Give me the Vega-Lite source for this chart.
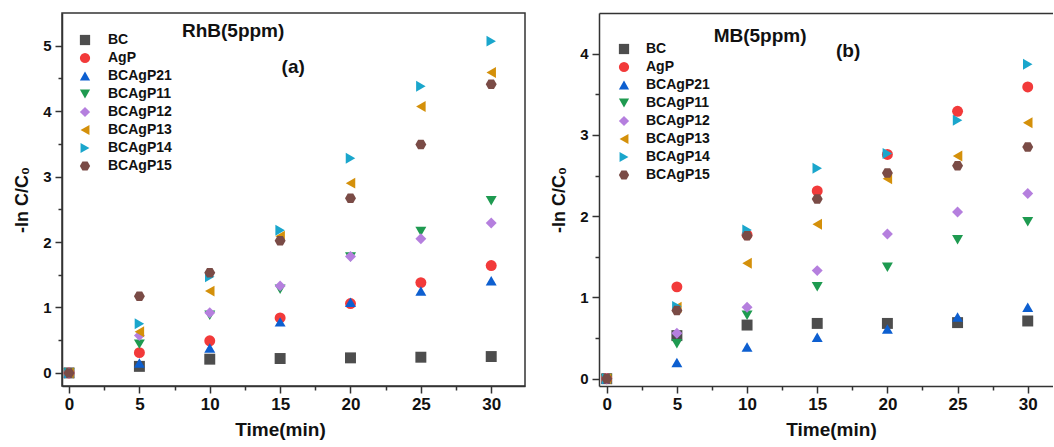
{
  "$schema": "https://vega.github.io/schema/vega-lite/v6.json",
  "background": "white",
  "padding": {"left": 12, "top": 12, "right": 0, "bottom": 0},
  "spacing": 24,
  "config": {
    "font": "Liberation Sans",
    "view": {"stroke": "#333333", "strokeWidth": 1.5},
    "axis": {
      "domainColor": "#333333", "domainWidth": 1.5,
      "tickColor": "#333333", "tickWidth": 1.5,
      "labelFont": "Liberation Sans", "labelFontWeight": "bold", "labelColor": "#111111",
      "titleFont": "Liberation Sans", "titleFontWeight": "bold", "titleColor": "#111111",
      "grid": false, "labelFlush": false, "labelOverlap": false
    },
    "legend": {"padding": 0}
  },
  "datasets": {
    "pts": [
      {"panel": "RhB", "sample": "BC", "time": 0, "value": 0},
      {"panel": "RhB", "sample": "BC", "time": 5, "value": 0.10},
      {"panel": "RhB", "sample": "BC", "time": 10, "value": 0.21},
      {"panel": "RhB", "sample": "BC", "time": 15, "value": 0.22},
      {"panel": "RhB", "sample": "BC", "time": 20, "value": 0.23},
      {"panel": "RhB", "sample": "BC", "time": 25, "value": 0.24},
      {"panel": "RhB", "sample": "BC", "time": 30, "value": 0.25},
      {"panel": "RhB", "sample": "AgP", "time": 0, "value": 0},
      {"panel": "RhB", "sample": "AgP", "time": 5, "value": 0.31},
      {"panel": "RhB", "sample": "AgP", "time": 10, "value": 0.49},
      {"panel": "RhB", "sample": "AgP", "time": 15, "value": 0.84},
      {"panel": "RhB", "sample": "AgP", "time": 20, "value": 1.06},
      {"panel": "RhB", "sample": "AgP", "time": 25, "value": 1.38},
      {"panel": "RhB", "sample": "AgP", "time": 30, "value": 1.64},
      {"panel": "RhB", "sample": "BCAgP21", "time": 0, "value": 0},
      {"panel": "RhB", "sample": "BCAgP21", "time": 5, "value": 0.15},
      {"panel": "RhB", "sample": "BCAgP21", "time": 10, "value": 0.38},
      {"panel": "RhB", "sample": "BCAgP21", "time": 15, "value": 0.78},
      {"panel": "RhB", "sample": "BCAgP21", "time": 20, "value": 1.08},
      {"panel": "RhB", "sample": "BCAgP21", "time": 25, "value": 1.25},
      {"panel": "RhB", "sample": "BCAgP21", "time": 30, "value": 1.41},
      {"panel": "RhB", "sample": "BCAgP11", "time": 0, "value": 0},
      {"panel": "RhB", "sample": "BCAgP11", "time": 5, "value": 0.44},
      {"panel": "RhB", "sample": "BCAgP11", "time": 10, "value": 0.88},
      {"panel": "RhB", "sample": "BCAgP11", "time": 15, "value": 1.28},
      {"panel": "RhB", "sample": "BCAgP11", "time": 20, "value": 1.77},
      {"panel": "RhB", "sample": "BCAgP11", "time": 25, "value": 2.16},
      {"panel": "RhB", "sample": "BCAgP11", "time": 30, "value": 2.63},
      {"panel": "RhB", "sample": "BCAgP12", "time": 0, "value": 0},
      {"panel": "RhB", "sample": "BCAgP12", "time": 5, "value": 0.57},
      {"panel": "RhB", "sample": "BCAgP12", "time": 10, "value": 0.92},
      {"panel": "RhB", "sample": "BCAgP12", "time": 15, "value": 1.33},
      {"panel": "RhB", "sample": "BCAgP12", "time": 20, "value": 1.78},
      {"panel": "RhB", "sample": "BCAgP12", "time": 25, "value": 2.05},
      {"panel": "RhB", "sample": "BCAgP12", "time": 30, "value": 2.29},
      {"panel": "RhB", "sample": "BCAgP13", "time": 0, "value": 0},
      {"panel": "RhB", "sample": "BCAgP13", "time": 5, "value": 0.63},
      {"panel": "RhB", "sample": "BCAgP13", "time": 10, "value": 1.25},
      {"panel": "RhB", "sample": "BCAgP13", "time": 15, "value": 2.09},
      {"panel": "RhB", "sample": "BCAgP13", "time": 20, "value": 2.90},
      {"panel": "RhB", "sample": "BCAgP13", "time": 25, "value": 4.07},
      {"panel": "RhB", "sample": "BCAgP13", "time": 30, "value": 4.59},
      {"panel": "RhB", "sample": "BCAgP14", "time": 0, "value": 0},
      {"panel": "RhB", "sample": "BCAgP14", "time": 5, "value": 0.75},
      {"panel": "RhB", "sample": "BCAgP14", "time": 10, "value": 1.47},
      {"panel": "RhB", "sample": "BCAgP14", "time": 15, "value": 2.18},
      {"panel": "RhB", "sample": "BCAgP14", "time": 20, "value": 3.28},
      {"panel": "RhB", "sample": "BCAgP14", "time": 25, "value": 4.38},
      {"panel": "RhB", "sample": "BCAgP14", "time": 30, "value": 5.07},
      {"panel": "RhB", "sample": "BCAgP15", "time": 0, "value": 0},
      {"panel": "RhB", "sample": "BCAgP15", "time": 5, "value": 1.17},
      {"panel": "RhB", "sample": "BCAgP15", "time": 10, "value": 1.53},
      {"panel": "RhB", "sample": "BCAgP15", "time": 15, "value": 2.02},
      {"panel": "RhB", "sample": "BCAgP15", "time": 20, "value": 2.67},
      {"panel": "RhB", "sample": "BCAgP15", "time": 25, "value": 3.49},
      {"panel": "RhB", "sample": "BCAgP15", "time": 30, "value": 4.41},
      {"panel": "MB", "sample": "BC", "time": 0, "value": 0},
      {"panel": "MB", "sample": "BC", "time": 5, "value": 0.53},
      {"panel": "MB", "sample": "BC", "time": 10, "value": 0.66},
      {"panel": "MB", "sample": "BC", "time": 15, "value": 0.68},
      {"panel": "MB", "sample": "BC", "time": 20, "value": 0.68},
      {"panel": "MB", "sample": "BC", "time": 25, "value": 0.69},
      {"panel": "MB", "sample": "BC", "time": 30, "value": 0.71},
      {"panel": "MB", "sample": "AgP", "time": 0, "value": 0},
      {"panel": "MB", "sample": "AgP", "time": 5, "value": 1.13},
      {"panel": "MB", "sample": "AgP", "time": 10, "value": 1.77},
      {"panel": "MB", "sample": "AgP", "time": 15, "value": 2.31},
      {"panel": "MB", "sample": "AgP", "time": 20, "value": 2.76},
      {"panel": "MB", "sample": "AgP", "time": 25, "value": 3.29},
      {"panel": "MB", "sample": "AgP", "time": 30, "value": 3.59},
      {"panel": "MB", "sample": "BCAgP21", "time": 0, "value": 0},
      {"panel": "MB", "sample": "BCAgP21", "time": 5, "value": 0.20},
      {"panel": "MB", "sample": "BCAgP21", "time": 10, "value": 0.39},
      {"panel": "MB", "sample": "BCAgP21", "time": 15, "value": 0.51},
      {"panel": "MB", "sample": "BCAgP21", "time": 20, "value": 0.61},
      {"panel": "MB", "sample": "BCAgP21", "time": 25, "value": 0.76},
      {"panel": "MB", "sample": "BCAgP21", "time": 30, "value": 0.88},
      {"panel": "MB", "sample": "BCAgP11", "time": 0, "value": 0},
      {"panel": "MB", "sample": "BCAgP11", "time": 5, "value": 0.43},
      {"panel": "MB", "sample": "BCAgP11", "time": 10, "value": 0.78},
      {"panel": "MB", "sample": "BCAgP11", "time": 15, "value": 1.13},
      {"panel": "MB", "sample": "BCAgP11", "time": 20, "value": 1.37},
      {"panel": "MB", "sample": "BCAgP11", "time": 25, "value": 1.71},
      {"panel": "MB", "sample": "BCAgP11", "time": 30, "value": 1.93},
      {"panel": "MB", "sample": "BCAgP12", "time": 0, "value": 0},
      {"panel": "MB", "sample": "BCAgP12", "time": 5, "value": 0.56},
      {"panel": "MB", "sample": "BCAgP12", "time": 10, "value": 0.88},
      {"panel": "MB", "sample": "BCAgP12", "time": 15, "value": 1.33},
      {"panel": "MB", "sample": "BCAgP12", "time": 20, "value": 1.78},
      {"panel": "MB", "sample": "BCAgP12", "time": 25, "value": 2.05},
      {"panel": "MB", "sample": "BCAgP12", "time": 30, "value": 2.28},
      {"panel": "MB", "sample": "BCAgP13", "time": 0, "value": 0},
      {"panel": "MB", "sample": "BCAgP13", "time": 5, "value": 0.88},
      {"panel": "MB", "sample": "BCAgP13", "time": 10, "value": 1.42},
      {"panel": "MB", "sample": "BCAgP13", "time": 15, "value": 1.90},
      {"panel": "MB", "sample": "BCAgP13", "time": 20, "value": 2.46},
      {"panel": "MB", "sample": "BCAgP13", "time": 25, "value": 2.74},
      {"panel": "MB", "sample": "BCAgP13", "time": 30, "value": 3.15},
      {"panel": "MB", "sample": "BCAgP14", "time": 0, "value": 0},
      {"panel": "MB", "sample": "BCAgP14", "time": 5, "value": 0.89},
      {"panel": "MB", "sample": "BCAgP14", "time": 10, "value": 1.83},
      {"panel": "MB", "sample": "BCAgP14", "time": 15, "value": 2.59},
      {"panel": "MB", "sample": "BCAgP14", "time": 20, "value": 2.77},
      {"panel": "MB", "sample": "BCAgP14", "time": 25, "value": 3.18},
      {"panel": "MB", "sample": "BCAgP14", "time": 30, "value": 3.87},
      {"panel": "MB", "sample": "BCAgP15", "time": 0, "value": 0},
      {"panel": "MB", "sample": "BCAgP15", "time": 5, "value": 0.84},
      {"panel": "MB", "sample": "BCAgP15", "time": 10, "value": 1.76},
      {"panel": "MB", "sample": "BCAgP15", "time": 15, "value": 2.21},
      {"panel": "MB", "sample": "BCAgP15", "time": 20, "value": 2.53},
      {"panel": "MB", "sample": "BCAgP15", "time": 25, "value": 2.62},
      {"panel": "MB", "sample": "BCAgP15", "time": 30, "value": 2.85}
    ]
  },
  "resolve": {"legend": {"color": "independent", "shape": "independent"}},
  "hconcat": [
    {
      "width": 463,
      "height": 373,
      "view": {"stroke": "#333333", "strokeWidth": 1.5},
      "resolve": {"axis": {"x": "independent", "y": "independent"}},
      "layer": [
        {
          "data": {"name": "pts"},
          "transform": [{"filter": "datum.panel === 'RhB'"}],
          "mark": {"type": "point", "filled": true, "opacity": 1, "size": 120, "strokeWidth": 0},
          "encoding": {
            "x": {
              "field": "time", "type": "quantitative",
              "scale": {"domain": [-0.5, 32.4], "nice": false, "zero": false},
              "axis": {
                "values": [0, 2.5, 5, 7.5, 10, 12.5, 15, 17.5, 20, 22.5, 25, 27.5, 30],
                "labelExpr": "datum.value % 5 === 0 ? format(datum.value, 'd') : ''",
                "tickSize": {"condition": {"test": "datum.value % 5 !== 0", "value": 4}, "value": 7},
                "labelFontSize": 17, "labelPadding": 3,
                "title": "Time(min)", "titleFontSize": 19, "titlePadding": 8, "titleX": 218
              }
            },
            "y": {
              "field": "value", "type": "quantitative",
              "scale": {"domain": [-0.2, 5.5], "nice": false, "zero": false},
              "axis": {
                "values": [0, 0.5, 1, 1.5, 2, 2.5, 3, 3.5, 4, 4.5, 5],
                "labelExpr": "datum.value % 1 === 0 ? format(datum.value, 'd') : ''",
                "tickSize": {"condition": {"test": "datum.value % 1 !== 0", "value": 4}, "value": 7},
                "labelFontSize": 15, "labelPadding": 4,
                "title": "-ln C/C₀", "titleFontSize": 18, "titlePadding": 11
              }
            },
            "color": {
              "field": "sample", "type": "nominal",
              "scale": {
                "domain": ["BC", "AgP", "BCAgP21", "BCAgP11", "BCAgP12", "BCAgP13", "BCAgP14", "BCAgP15"],
                "range": ["#4d4d4d", "#f23a3a", "#0d5fd0", "#1e9a50", "#b57fde", "#d4900a", "#1aa6cc", "#7a4b46"]
              },
              "legend": {
                "orient": "none", "legendX": 16, "legendY": 20, "title": null,
                "symbolSize": 105, "symbolStrokeWidth": 0, "labelFontSize": 14, "labelFontWeight": "bold", "labelColor": "#111111",
                "rowPadding": 4, "labelOffset": 16
              }
            },
            "shape": {
              "field": "sample", "type": "nominal",
              "scale": {
                "domain": ["BC", "AgP", "BCAgP21", "BCAgP11", "BCAgP12", "BCAgP13", "BCAgP14", "BCAgP15"],
                "range": ["square", "circle", "triangle-up", "triangle-down", "diamond", "triangle-left", "triangle-right", "M-1,0L-0.5,-0.866L0.5,-0.866L1,0L0.5,0.866L-0.5,0.866Z"]
              },
              "legend": {
                "orient": "none", "legendX": 16, "legendY": 20, "title": null,
                "symbolSize": 105, "symbolStrokeWidth": 0, "labelFontSize": 14, "labelFontWeight": "bold", "labelColor": "#111111",
                "rowPadding": 4, "labelOffset": 16
              }
            }
          }
        },
        {
          "data": {"values": [{}]},
          "mark": {"type": "text", "text": "RhB(5ppm)", "fontSize": 19, "fontWeight": "bold", "align": "center", "baseline": "middle", "color": "#111111"},
          "encoding": {
            "x": {"datum": 11.66, "type": "quantitative", "axis": null},
            "y": {"datum": 5.23, "type": "quantitative", "axis": null}
          }
        },
        {
          "data": {"values": [{}]},
          "mark": {"type": "text", "text": "(a)", "fontSize": 19, "fontWeight": "bold", "align": "center", "baseline": "middle", "color": "#111111"},
          "encoding": {
            "x": {"datum": 15.93, "type": "quantitative", "axis": null},
            "y": {"datum": 4.68, "type": "quantitative", "axis": null}
          }
        }
      ]
    },
    {
      "width": 454,
      "height": 373,
      "view": {"stroke": null},
      "resolve": {"axis": {"x": "independent", "y": "independent"}},
      "layer": [
        {
          "data": {"name": "pts"},
          "transform": [{"filter": "datum.panel === 'MB'"}],
          "mark": {"type": "point", "filled": true, "opacity": 1, "size": 120, "strokeWidth": 0},
          "encoding": {
            "x": {
              "field": "time", "type": "quantitative",
              "scale": {"domain": [-0.55, 31.8], "nice": false, "zero": false},
              "axis": {
                "values": [0, 2.5, 5, 7.5, 10, 12.5, 15, 17.5, 20, 22.5, 25, 27.5, 30],
                "labelExpr": "datum.value % 5 === 0 ? format(datum.value, 'd') : ''",
                "tickSize": {"condition": {"test": "datum.value % 5 !== 0", "value": 4}, "value": 7},
                "labelFontSize": 17, "labelPadding": 3,
                "title": "Time(min)", "titleFontSize": 19, "titlePadding": 8, "titleX": 232
              }
            },
            "y": {
              "field": "value", "type": "quantitative",
              "scale": {"domain": [-0.09, 4.5], "nice": false, "zero": false},
              "axis": {
                "values": [0, 0.5, 1, 1.5, 2, 2.5, 3, 3.5, 4],
                "labelExpr": "datum.value % 1 === 0 ? format(datum.value, 'd') : ''",
                "tickSize": {"condition": {"test": "datum.value % 1 !== 0", "value": 4}, "value": 7},
                "labelFontSize": 15, "labelPadding": 4,
                "title": "-ln C/C₀", "titleFontSize": 18, "titlePadding": 11
              }
            },
            "color": {
              "field": "sample", "type": "nominal",
              "scale": {
                "domain": ["BC", "AgP", "BCAgP21", "BCAgP11", "BCAgP12", "BCAgP13", "BCAgP14", "BCAgP15"],
                "range": ["#4d4d4d", "#f23a3a", "#0d5fd0", "#1e9a50", "#b57fde", "#d4900a", "#1aa6cc", "#7a4b46"]
              },
              "legend": {
                "orient": "none", "legendX": 18, "legendY": 29, "title": null,
                "symbolSize": 105, "symbolStrokeWidth": 0, "labelFontSize": 14, "labelFontWeight": "bold", "labelColor": "#111111",
                "rowPadding": 4, "labelOffset": 15
              }
            },
            "shape": {
              "field": "sample", "type": "nominal",
              "scale": {
                "domain": ["BC", "AgP", "BCAgP21", "BCAgP11", "BCAgP12", "BCAgP13", "BCAgP14", "BCAgP15"],
                "range": ["square", "circle", "triangle-up", "triangle-down", "diamond", "triangle-left", "triangle-right", "M-1,0L-0.5,-0.866L0.5,-0.866L1,0L0.5,0.866L-0.5,0.866Z"]
              },
              "legend": {
                "orient": "none", "legendX": 18, "legendY": 29, "title": null,
                "symbolSize": 105, "symbolStrokeWidth": 0, "labelFontSize": 14, "labelFontWeight": "bold", "labelColor": "#111111",
                "rowPadding": 4, "labelOffset": 15
              }
            }
          }
        },
        {
          "data": {"values": [{}]},
          "mark": {"type": "text", "text": "MB(5ppm)", "fontSize": 19, "fontWeight": "bold", "align": "center", "baseline": "middle", "color": "#111111"},
          "encoding": {
            "x": {"datum": 10.93, "type": "quantitative", "axis": {"orient": "top", "labels": false, "ticks": false, "domain": true, "title": null, "grid": false}},
            "y": {"datum": 4.22, "type": "quantitative", "axis": null}
          }
        },
        {
          "data": {"values": [{}]},
          "mark": {"type": "text", "text": "(b)", "fontSize": 19, "fontWeight": "bold", "align": "center", "baseline": "middle", "color": "#111111"},
          "encoding": {
            "x": {"datum": 17.2, "type": "quantitative", "axis": null},
            "y": {"datum": 4.03, "type": "quantitative", "axis": null}
          }
        }
      ]
    }
  ]
}
